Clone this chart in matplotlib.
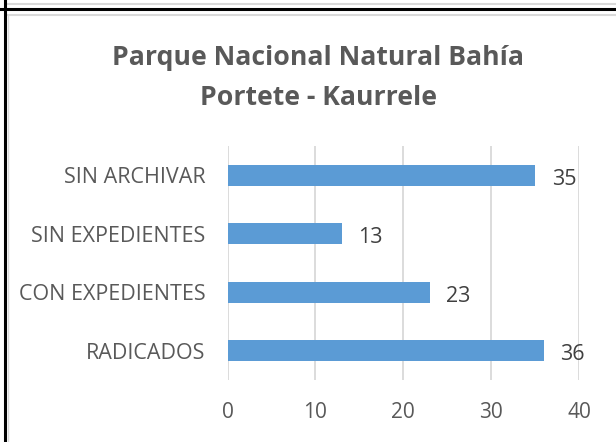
import matplotlib.pyplot as plt
from matplotlib.lines import Line2D

# data
categories = ['RADICADOS', 'CON EXPEDIENTES', 'SIN EXPEDIENTES', 'SIN ARCHIVAR']
values = [36, 23, 13, 35]
xticks = [0, 10, 20, 30, 40]
title_lines = ['Parque Nacional Natural Bahía', 'Portete - Kaurrele']

plt.rcParams['font.family'] = ['Open Sans', 'DejaVu Sans']

W, H = 616, 442
fig = plt.figure(figsize=(W / 100, H / 100), dpi=100)
fig.patch.set_facecolor('white')

# page borders (table cell lines)
def hline(y, x0, x1, color, lw):
	fig.add_artist(Line2D([x0 / W, x1 / W], [1 - y / H, 1 - y / H], color=color, lw=lw, transform=fig.transFigure))
def vline(x, y0, y1, color, lw):
	fig.add_artist(Line2D([x / W, x / W], [1 - y0 / H, 1 - y1 / H], color=color, lw=lw, transform=fig.transFigure))

hline(3.5, 7, W, '#d9d9d9', 1.5)
hline(9, 0, W, 'black', 2.2)
hline(15, 7, W, '#d9d9d9', 1.5)
vline(5, 0, H, 'black', 2.2)
vline(7.5, 15, H, '#d9d9d9', 1.0)

ax = fig.add_axes([227.5 / W, 1 - 380 / H, (579 - 227.5) / W, (380 - 146) / H])

ypos = list(range(len(categories)))
ax.barh(ypos, values, height=0.36, color='#5b9bd5', zorder=3)
for y, v in zip(ypos, values):
	ax.text(v + 1.9, y - 0.07, str(v), va='center', ha='left', fontsize=15.5, color='#404040')

ax.set_xlim(0, 40)
ax.set_ylim(-0.5, 3.5)
ax.set_xticks(xticks)
ax.set_yticks(ypos)
ax.set_yticklabels(categories)
ax.tick_params(axis='both', length=0, labelsize=15, colors='#595959')
ax.tick_params(axis='y', labelsize=15.5)
ax.tick_params(axis='x', pad=16)
ax.tick_params(axis='y', pad=16)
ax.grid(axis='x', color='#d9d9d9', lw=1.3, zorder=0)
for s in ax.spines.values():
	s.set_visible(False)

# title, two lines
for ty, line in zip([58, 98], title_lines):
	fig.text(318 / W, 1 - ty / H, line, ha='center', va='center',
		fontsize=19.2, fontweight='bold', color='#595959')

fig.savefig('out.png', dpi=100)
